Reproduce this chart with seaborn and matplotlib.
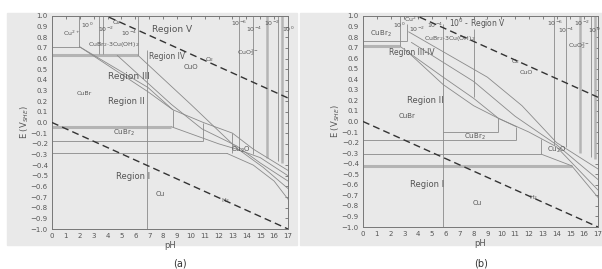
import matplotlib
matplotlib.use("Agg")
import matplotlib.pyplot as plt
import seaborn as sns
import pandas as pd

sns.set_style("white")
plt.rcParams["font.family"] = ["DejaVu Sans"]
plt.rcParams["mathtext.fontset"] = "dejavusans"

# --- axes ticks ---
ph_ticks = list(range(0, 18))
e_ticks = [1.0, 0.9, 0.8, 0.7, 0.6, 0.5, 0.4, 0.3, 0.2, 0.1, 0.0,
           -0.1, -0.2, -0.3, -0.4, -0.5, -0.6, -0.7, -0.8, -0.9, -1.0]

# --- water stability lines (same in both panels) ---
water_ph = [0, 17]
o2_e = [1.23, 0.23]
h2_e = [0.0, -1.0]

# --- panel (a) ---
a_hline_e = [0.71, -0.17, -0.29]
a_hline_x0 = [0, 0, 0]
a_hline_x1 = [2.0, 10.9, 12.6]
a_band_e = [0.63, -0.04]
a_band_x0 = [0, 0]
a_band_x1 = [6.2, 8.6]
a_vline_ph = [1.95, 3.4, 3.65, 6.2, 6.85, 8.7, 10.9, 13.0, 13.45, 14.45, 16.3]
a_vline_lo = [0.71, 0.64, 0.64, 0.63, -1.0, -0.04, -0.17, -0.29, -0.26, -0.30, -0.36]
a_vline_hi = [1.0, 1.0, 1.0, 1.0, 0.68, 0.12, 0.0, -0.1, 1.0, 1.0, 1.0]
a_vband_ph = [15.5, 16.6]
a_vband_lo = [-0.33, -0.38]
a_curves = [
    ([2.0, 6.9, 8.7, 10.9, 13.0, 14.5, 17.0], [0.71, 0.33, 0.12, 0.0, -0.1, -0.25, -0.45]),
    ([2.0, 6.9, 8.7], [0.71, 0.29, 0.12]),
    ([4.7, 8.6, 10.8, 13.3, 15.0, 17.0], [0.63, 0.17, -0.06, -0.22, -0.38, -0.55]),
    ([6.2, 10.0, 13.3, 15.2, 17.0], [0.63, 0.17, -0.24, -0.42, -0.62]),
    ([8.6, 12.0, 13.3, 15.0, 17.0], [-0.04, -0.2, -0.25, -0.33, -0.5]),
    ([12.6, 14.5, 16.0, 17.0], [-0.29, -0.40, -0.55, -0.72]),
]
a_labels = [
    (0.8, 0.84, "Cu$^{2+}$", 4.5), (2.1, 0.91, "10$^0$", 4.5), (3.3, 0.87, "10$^{-2}$", 4.5),
    (4.3, 0.94, "O$_2$", 4.5), (5.0, 0.84, "10$^{-4}$", 4.5),
    (7.2, 0.87, "Region V", 6.5), (2.6, 0.73, "CuBr$_2$·3Cu(OH)$_2$", 4.5),
    (7.0, 0.62, "Region IV", 5.5), (9.5, 0.52, "CuO", 5), (4.0, 0.43, "Region III", 6.5),
    (11.0, 0.59, "O$_2$", 4.5), (1.8, 0.27, "CuBr", 4.5), (4.0, 0.2, "Region II", 6),
    (4.4, -0.10, "CuBr$_2$", 5), (12.9, -0.26, "Cu$_2$O", 5), (4.6, -0.51, "Region I", 6),
    (7.5, -0.67, "Cu", 5), (12.2, -0.73, "H$_2$", 4.5),
    (12.9, 0.93, "10$^{-6}$", 4.5), (14.0, 0.87, "10$^{-4}$", 4.5), (15.3, 0.93, "10$^{-2}$", 4.5),
    (16.6, 0.87, "10$^0$", 4.5), (13.3, 0.66, "CuO$_2^{2-}$", 4.5),
]

# --- panel (b) ---
b_hline_e = [0.76, -0.10, -0.18, -0.31]
b_hline_x0 = [0, 5.8, 0, 0]
b_hline_x1 = [3.2, 9.8, 11.1, 12.9]
b_band_e = [0.72, -0.42]
b_band_x0 = [0, 0]
b_band_x1 = [2.7, 15.1]
b_vline_ph = [2.7, 3.2, 5.8, 8.0, 9.8, 11.1, 12.9, 13.8, 14.7, 16.5]
b_vline_lo = [0.72, 0.76, -1.0, 0.23, -0.10, -0.18, -0.31, -0.22, -0.24, -0.34]
b_vline_hi = [1.0, 0.92, 0.92, 0.88, 0.03, -0.05, -0.17, 1.0, 1.0, 1.0]
b_vband_ph = [15.7, 16.8]
b_vband_lo = [-0.30, -0.36]
b_curves = [
    ([3.3, 9.0, 11.5, 14.0, 17.0], [0.85, 0.42, 0.15, -0.20, -0.45]),
    ([3.5, 8.0, 11.0, 14.0, 17.0], [0.75, 0.38, 0.05, -0.22, -0.55]),
    ([2.7, 5.8, 8.0, 9.8, 12.0, 14.0, 17.0], [0.71, 0.42, 0.22, 0.03, -0.10, -0.24, -0.65]),
    ([3.4, 5.8, 8.0, 9.8, 11.1], [0.64, 0.35, 0.15, 0.03, -0.05]),
    ([12.9, 15.1, 17.0], [-0.31, -0.42, -0.72]),
]
b_labels = [
    (0.5, 0.83, "CuBr$_2$", 5), (3.0, 0.97, "Cu$^{2+}$", 4.5), (2.2, 0.91, "10$^0$", 4.5),
    (3.3, 0.87, "10$^{-2}$", 4.5), (4.6, 0.91, "10$^{-4}$", 4.5), (6.2, 0.93, "10$^0$ - Region V", 5.5),
    (4.4, 0.79, "CuBr$_2$·3Cu(OH)$_2$", 4.5), (1.9, 0.65, "Region III-IV", 5.5),
    (10.7, 0.57, "O$_2$", 4.5), (11.3, 0.46, "CuO", 4.5), (3.2, 0.2, "Region II", 6),
    (2.6, 0.05, "CuBr", 5), (7.3, -0.15, "CuBr$_2$", 5), (13.3, -0.27, "Cu$_2$O", 5),
    (3.4, -0.6, "Region I", 6), (7.9, -0.77, "Cu", 5), (12.0, -0.72, "H$_2$", 4.5),
    (13.3, 0.93, "10$^{-6}$", 4.5), (14.1, 0.86, "10$^{-4}$", 4.5), (15.3, 0.93, "10$^{-2}$", 4.5),
    (16.3, 0.86, "10$^0$", 4.5), (14.8, 0.72, "CuO$_2^{2-}$", 4.5),
]

BG = "#e9e9e9"
LINE = "#8a8a8a"
BAND = "#b4b4b4"
TXT = "#555555"

W, H = 602, 269
fig = plt.figure(figsize=(W / 100, H / 100), dpi=100)
fig.patches.append(plt.Rectangle((7 / W, 1 - 245 / H), 290 / W, 232 / H,
                                 transform=fig.transFigure, color=BG, zorder=-10))
fig.patches.append(plt.Rectangle((300 / W, 1 - 245 / H), 302 / W, 232 / H,
                                 transform=fig.transFigure, color=BG, zorder=-10))


def draw_panel(ax, hl, bands, vl, vb, curves, labels):
    ax.set_facecolor("none")
    ax.set_xlim(0, 17)
    ax.set_ylim(-1.0, 1.0)
    # water lines
    for e in (o2_e, h2_e):
        df = pd.DataFrame({"pH": water_ph, "E": e})
        sns.lineplot(data=df, x="pH", y="E", ax=ax, color="#333333",
                     lw=1.0, linestyle=(0, (5, 3)), zorder=4)
    ax.hlines(hl[0], hl[1], hl[2], color=LINE, lw=0.6)
    ax.hlines(bands[0], bands[1], bands[2], color=BAND, lw=2.2)
    ax.vlines(vl[0], vl[1], vl[2], color=LINE, lw=0.6)
    ax.vlines(vb[0], vb[1], 1.0, color=BAND, lw=1.8)
    for xs, ys in curves:
        df = pd.DataFrame({"pH": xs, "E": ys})
        sns.lineplot(data=df, x="pH", y="E", ax=ax, sort=False, color=LINE, lw=0.6)
    for x, y, s, fs in labels:
        ax.text(x, y, s, fontsize=fs, color=TXT, va="center", ha="left")
    ax.set_xticks(ph_ticks)
    ax.set_xticklabels([str(t) for t in ph_ticks])
    ax.set_yticks(e_ticks)
    ax.set_yticklabels(["%.1f" % t if t >= 0 else "\u2212%.1f" % -t for t in e_ticks])
    ax.tick_params(axis="both", direction="in", length=2, width=0.5, colors=TXT,
                   labelsize=5, top=True, right=True, pad=3)
    for sp in ax.spines.values():
        sp.set_color("#777777")
        sp.set_linewidth(0.7)
    ax.set_xlabel("pH", fontsize=6, color=TXT, labelpad=1)
    ax.set_ylabel("E (V$_{SHE}$)", fontsize=6, color=TXT, labelpad=0)


ax1 = fig.add_axes([52 / W, 1 - 229 / H, 236 / W, 213 / H])
draw_panel(ax1, (a_hline_e, a_hline_x0, a_hline_x1), (a_band_e, a_band_x0, a_band_x1),
           (a_vline_ph, a_vline_lo, a_vline_hi), (a_vband_ph, a_vband_lo), a_curves, a_labels)

ax2 = fig.add_axes([363 / W, 1 - 227 / H, 235 / W, 211 / H])
draw_panel(ax2, (b_hline_e, b_hline_x0, b_hline_x1), (b_band_e, b_band_x0, b_band_x1),
           (b_vline_ph, b_vline_lo, b_vline_hi), (b_vband_ph, b_vband_lo), b_curves, b_labels)

fig.text(180 / W, 1 - 263 / H, "(a)", fontsize=7, color="#333333", ha="center", va="center")
fig.text(481 / W, 1 - 263 / H, "(b)", fontsize=7, color="#333333", ha="center", va="center")

fig.savefig("out.png", dpi=100)
plt.close(fig)
